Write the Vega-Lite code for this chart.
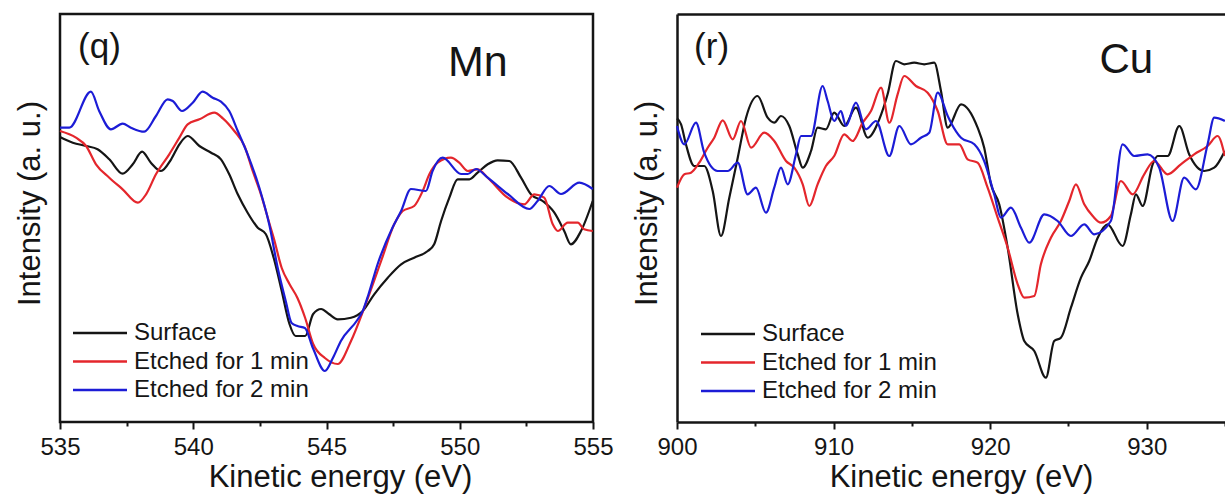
{
  "$schema": "https://vega.github.io/schema/vega-lite/v6.json",
  "background": "white",
  "padding": {"left": 12, "top": 12, "right": 0, "bottom": 0},
  "bounds": "flush",
  "spacing": 84,
  "config": {
    "font": "Liberation Sans",
    "axis": {"grid": false, "labelFont": "Liberation Sans", "titleFont": "Liberation Sans", "titleFontWeight": "normal", "labelColor": "#151515", "titleColor": "#151515", "domainColor": "#151515", "tickColor": "#151515"},
    "text": {"font": "Liberation Sans", "color": "#151515"}
  },
  "datasets": {
    "mn": [
      {"series": "Surface", "eV": 535.00, "v": 285}, {"series": "Surface", "eV": 535.48, "v": 279.3}, {"series": "Surface", "eV": 535.98, "v": 276}, {"series": "Surface", "eV": 536.41, "v": 272.7}, {"series": "Surface", "eV": 536.85, "v": 262.7}, {"series": "Surface", "eV": 537.35, "v": 248.3}, {"series": "Surface", "eV": 537.73, "v": 257.7}, {"series": "Surface", "eV": 538.08, "v": 270.3}, {"series": "Surface", "eV": 538.41, "v": 259.3}, {"series": "Surface", "eV": 538.79, "v": 251}, {"series": "Surface", "eV": 539.17, "v": 262.7}, {"series": "Surface", "eV": 539.48, "v": 277.7}, {"series": "Surface", "eV": 539.79, "v": 286}, {"series": "Surface", "eV": 540.23, "v": 276}, {"series": "Surface", "eV": 540.67, "v": 269.3}, {"series": "Surface", "eV": 541.04, "v": 262.7}, {"series": "Surface", "eV": 541.35, "v": 247.7}, {"series": "Surface", "eV": 541.67, "v": 227.7}, {"series": "Surface", "eV": 542.04, "v": 209.3}, {"series": "Surface", "eV": 542.42, "v": 194.3}, {"series": "Surface", "eV": 542.72, "v": 188}, {"series": "Surface", "eV": 543.02, "v": 164}, {"series": "Surface", "eV": 543.32, "v": 131}, {"series": "Surface", "eV": 543.61, "v": 98}, {"series": "Surface", "eV": 543.84, "v": 86}, {"series": "Surface", "eV": 544.20, "v": 86}, {"series": "Surface", "eV": 544.50, "v": 108}, {"series": "Surface", "eV": 544.80, "v": 113}, {"series": "Surface", "eV": 545.09, "v": 108}, {"series": "Surface", "eV": 545.42, "v": 102.7}, {"series": "Surface", "eV": 545.92, "v": 104.3}, {"series": "Surface", "eV": 546.36, "v": 111}, {"series": "Surface", "eV": 546.79, "v": 127.7}, {"series": "Surface", "eV": 547.30, "v": 144.3}, {"series": "Surface", "eV": 547.80, "v": 157.7}, {"series": "Surface", "eV": 548.29, "v": 164.3}, {"series": "Surface", "eV": 548.80, "v": 171}, {"series": "Surface", "eV": 549.04, "v": 177.7}, {"series": "Surface", "eV": 549.30, "v": 201}, {"series": "Surface", "eV": 549.61, "v": 224.3}, {"series": "Surface", "eV": 549.92, "v": 242.7}, {"series": "Surface", "eV": 550.36, "v": 242.7}, {"series": "Surface", "eV": 550.67, "v": 249.3}, {"series": "Surface", "eV": 551.05, "v": 257.7}, {"series": "Surface", "eV": 551.42, "v": 261.7}, {"series": "Surface", "eV": 551.86, "v": 261}, {"series": "Surface", "eV": 552.30, "v": 244.3}, {"series": "Surface", "eV": 552.67, "v": 227.7}, {"series": "Surface", "eV": 553.11, "v": 221}, {"series": "Surface", "eV": 553.55, "v": 209.3}, {"series": "Surface", "eV": 553.92, "v": 191}, {"series": "Surface", "eV": 554.17, "v": 177.7}, {"series": "Surface", "eV": 554.55, "v": 191}, {"series": "Surface", "eV": 554.99, "v": 221},
      {"series": "Etched for 1 min", "eV": 535.00, "v": 291}, {"series": "Etched for 1 min", "eV": 535.60, "v": 284.3}, {"series": "Etched for 1 min", "eV": 535.98, "v": 276}, {"series": "Etched for 1 min", "eV": 536.35, "v": 257.7}, {"series": "Etched for 1 min", "eV": 536.85, "v": 244.3}, {"series": "Etched for 1 min", "eV": 537.35, "v": 232.7}, {"series": "Etched for 1 min", "eV": 537.92, "v": 219.3}, {"series": "Etched for 1 min", "eV": 538.23, "v": 227.7}, {"series": "Etched for 1 min", "eV": 538.60, "v": 247.7}, {"series": "Etched for 1 min", "eV": 539.10, "v": 267.7}, {"series": "Etched for 1 min", "eV": 539.48, "v": 284.3}, {"series": "Etched for 1 min", "eV": 539.79, "v": 297.7}, {"series": "Etched for 1 min", "eV": 540.23, "v": 302.7}, {"series": "Etched for 1 min", "eV": 540.79, "v": 309.3}, {"series": "Etched for 1 min", "eV": 541.11, "v": 303.7}, {"series": "Etched for 1 min", "eV": 541.54, "v": 291}, {"series": "Etched for 1 min", "eV": 541.92, "v": 276}, {"series": "Etched for 1 min", "eV": 542.23, "v": 251}, {"series": "Etched for 1 min", "eV": 542.54, "v": 227.7}, {"series": "Etched for 1 min", "eV": 542.85, "v": 199.3}, {"series": "Etched for 1 min", "eV": 543.02, "v": 184}, {"series": "Etched for 1 min", "eV": 543.32, "v": 154}, {"series": "Etched for 1 min", "eV": 543.61, "v": 138}, {"series": "Etched for 1 min", "eV": 543.91, "v": 124}, {"series": "Etched for 1 min", "eV": 544.20, "v": 104}, {"series": "Etched for 1 min", "eV": 544.50, "v": 78}, {"series": "Etched for 1 min", "eV": 544.94, "v": 64}, {"series": "Etched for 1 min", "eV": 545.42, "v": 58}, {"series": "Etched for 1 min", "eV": 545.92, "v": 81}, {"series": "Etched for 1 min", "eV": 546.42, "v": 114.3}, {"series": "Etched for 1 min", "eV": 547.05, "v": 161}, {"series": "Etched for 1 min", "eV": 547.54, "v": 197.7}, {"series": "Etched for 1 min", "eV": 547.86, "v": 211}, {"series": "Etched for 1 min", "eV": 548.29, "v": 216}, {"series": "Etched for 1 min", "eV": 548.61, "v": 231}, {"series": "Etched for 1 min", "eV": 548.86, "v": 247.7}, {"series": "Etched for 1 min", "eV": 549.17, "v": 259.3}, {"series": "Etched for 1 min", "eV": 549.67, "v": 264.3}, {"series": "Etched for 1 min", "eV": 549.98, "v": 259.3}, {"series": "Etched for 1 min", "eV": 550.30, "v": 251}, {"series": "Etched for 1 min", "eV": 550.67, "v": 252.7}, {"series": "Etched for 1 min", "eV": 551.05, "v": 244.3}, {"series": "Etched for 1 min", "eV": 551.80, "v": 224.3}, {"series": "Etched for 1 min", "eV": 552.42, "v": 217.7}, {"series": "Etched for 1 min", "eV": 552.80, "v": 227.7}, {"series": "Etched for 1 min", "eV": 553.17, "v": 224.3}, {"series": "Etched for 1 min", "eV": 553.49, "v": 197.7}, {"series": "Etched for 1 min", "eV": 553.68, "v": 191}, {"series": "Etched for 1 min", "eV": 554.05, "v": 199.3}, {"series": "Etched for 1 min", "eV": 554.43, "v": 199.3}, {"series": "Etched for 1 min", "eV": 554.67, "v": 192.7}, {"series": "Etched for 1 min", "eV": 554.99, "v": 191},
      {"series": "Etched for 2 min", "eV": 535.00, "v": 294.3}, {"series": "Etched for 2 min", "eV": 535.35, "v": 294.3}, {"series": "Etched for 2 min", "eV": 536.16, "v": 330.3}, {"series": "Etched for 2 min", "eV": 536.47, "v": 311}, {"series": "Etched for 2 min", "eV": 536.91, "v": 292.7}, {"series": "Etched for 2 min", "eV": 537.35, "v": 298.3}, {"series": "Etched for 2 min", "eV": 537.66, "v": 294.3}, {"series": "Etched for 2 min", "eV": 538.16, "v": 290.3}, {"series": "Etched for 2 min", "eV": 538.60, "v": 306}, {"series": "Etched for 2 min", "eV": 539.04, "v": 322.7}, {"series": "Etched for 2 min", "eV": 539.23, "v": 321}, {"series": "Etched for 2 min", "eV": 539.58, "v": 311}, {"series": "Etched for 2 min", "eV": 539.98, "v": 319.3}, {"series": "Etched for 2 min", "eV": 540.35, "v": 330.3}, {"series": "Etched for 2 min", "eV": 540.73, "v": 324.3}, {"series": "Etched for 2 min", "eV": 541.04, "v": 320.3}, {"series": "Etched for 2 min", "eV": 541.35, "v": 311}, {"series": "Etched for 2 min", "eV": 541.67, "v": 291}, {"series": "Etched for 2 min", "eV": 542.04, "v": 267.7}, {"series": "Etched for 2 min", "eV": 542.48, "v": 234.3}, {"series": "Etched for 2 min", "eV": 542.85, "v": 197.7}, {"series": "Etched for 2 min", "eV": 543.17, "v": 154}, {"series": "Etched for 2 min", "eV": 543.47, "v": 121}, {"series": "Etched for 2 min", "eV": 543.69, "v": 99}, {"series": "Etched for 2 min", "eV": 543.91, "v": 96}, {"series": "Etched for 2 min", "eV": 544.19, "v": 94}, {"series": "Etched for 2 min", "eV": 544.49, "v": 74}, {"series": "Etched for 2 min", "eV": 544.94, "v": 51}, {"series": "Etched for 2 min", "eV": 545.24, "v": 64}, {"series": "Etched for 2 min", "eV": 545.54, "v": 81}, {"series": "Etched for 2 min", "eV": 546.13, "v": 101}, {"series": "Etched for 2 min", "eV": 546.36, "v": 111}, {"series": "Etched for 2 min", "eV": 546.58, "v": 128}, {"series": "Etched for 2 min", "eV": 546.92, "v": 158}, {"series": "Etched for 2 min", "eV": 547.47, "v": 194}, {"series": "Etched for 2 min", "eV": 547.80, "v": 211}, {"series": "Etched for 2 min", "eV": 548.17, "v": 233}, {"series": "Etched for 2 min", "eV": 548.73, "v": 231}, {"series": "Etched for 2 min", "eV": 548.98, "v": 251}, {"series": "Etched for 2 min", "eV": 549.36, "v": 264.3}, {"series": "Etched for 2 min", "eV": 550.05, "v": 248}, {"series": "Etched for 2 min", "eV": 550.30, "v": 248}, {"series": "Etched for 2 min", "eV": 550.61, "v": 253}, {"series": "Etched for 2 min", "eV": 551.05, "v": 244.3}, {"series": "Etched for 2 min", "eV": 551.80, "v": 228}, {"series": "Etched for 2 min", "eV": 552.61, "v": 213}, {"series": "Etched for 2 min", "eV": 552.92, "v": 221}, {"series": "Etched for 2 min", "eV": 553.36, "v": 236}, {"series": "Etched for 2 min", "eV": 553.80, "v": 228}, {"series": "Etched for 2 min", "eV": 554.49, "v": 239.3}, {"series": "Etched for 2 min", "eV": 554.99, "v": 233}
    ],
    "cu": [
      {"series": "Surface", "eV": 900.00, "v": 303.7}, {"series": "Surface", "eV": 900.26, "v": 297.7}, {"series": "Surface", "eV": 900.57, "v": 277.7}, {"series": "Surface", "eV": 901.10, "v": 256}, {"series": "Surface", "eV": 901.74, "v": 256}, {"series": "Surface", "eV": 902.28, "v": 231}, {"series": "Surface", "eV": 902.81, "v": 186}, {"series": "Surface", "eV": 903.34, "v": 224.3}, {"series": "Surface", "eV": 903.88, "v": 264.3}, {"series": "Surface", "eV": 904.41, "v": 304.3}, {"series": "Surface", "eV": 905.15, "v": 326}, {"series": "Surface", "eV": 905.79, "v": 304.3}, {"series": "Surface", "eV": 906.21, "v": 299.3}, {"series": "Surface", "eV": 906.64, "v": 306}, {"series": "Surface", "eV": 907.17, "v": 296}, {"series": "Surface", "eV": 907.71, "v": 267.7}, {"series": "Surface", "eV": 908.03, "v": 254.3}, {"series": "Surface", "eV": 908.56, "v": 271}, {"series": "Surface", "eV": 908.98, "v": 294.3}, {"series": "Surface", "eV": 909.51, "v": 292.7}, {"series": "Surface", "eV": 910.04, "v": 309.3}, {"series": "Surface", "eV": 910.68, "v": 296}, {"series": "Surface", "eV": 911.43, "v": 314.3}, {"series": "Surface", "eV": 912.18, "v": 284.3}, {"series": "Surface", "eV": 912.92, "v": 302.7}, {"series": "Surface", "eV": 913.45, "v": 327.7}, {"series": "Surface", "eV": 913.98, "v": 361}, {"series": "Surface", "eV": 914.51, "v": 357.7}, {"series": "Surface", "eV": 915.15, "v": 359.3}, {"series": "Surface", "eV": 915.79, "v": 357.7}, {"series": "Surface", "eV": 916.43, "v": 359.3}, {"series": "Surface", "eV": 916.86, "v": 331}, {"series": "Surface", "eV": 917.29, "v": 294.3}, {"series": "Surface", "eV": 918.14, "v": 317.7}, {"series": "Surface", "eV": 919.20, "v": 294.3}, {"series": "Surface", "eV": 919.62, "v": 274.3}, {"series": "Surface", "eV": 920.05, "v": 237.7}, {"series": "Surface", "eV": 920.58, "v": 217.7}, {"series": "Surface", "eV": 921.12, "v": 174.3}, {"series": "Surface", "eV": 921.76, "v": 107.7}, {"series": "Surface", "eV": 922.18, "v": 81}, {"series": "Surface", "eV": 922.82, "v": 71}, {"series": "Surface", "eV": 923.56, "v": 44.3}, {"series": "Surface", "eV": 924.09, "v": 81}, {"series": "Surface", "eV": 924.52, "v": 84.3}, {"series": "Surface", "eV": 925.16, "v": 114.3}, {"series": "Surface", "eV": 925.80, "v": 144.3}, {"series": "Surface", "eV": 926.33, "v": 161}, {"series": "Surface", "eV": 926.87, "v": 184.3}, {"series": "Surface", "eV": 927.50, "v": 197.7}, {"series": "Surface", "eV": 928.46, "v": 176}, {"series": "Surface", "eV": 928.99, "v": 207.7}, {"series": "Surface", "eV": 929.31, "v": 227.7}, {"series": "Surface", "eV": 929.74, "v": 216}, {"series": "Surface", "eV": 930.38, "v": 257.7}, {"series": "Surface", "eV": 930.70, "v": 266}, {"series": "Surface", "eV": 931.34, "v": 266}, {"series": "Surface", "eV": 932.08, "v": 296}, {"series": "Surface", "eV": 932.71, "v": 267.7}, {"series": "Surface", "eV": 933.67, "v": 251}, {"series": "Surface", "eV": 934.31, "v": 254.3}, {"series": "Surface", "eV": 934.99, "v": 271},
      {"series": "Etched for 1 min", "eV": 900.00, "v": 234.3}, {"series": "Etched for 1 min", "eV": 900.47, "v": 247.7}, {"series": "Etched for 1 min", "eV": 900.89, "v": 249.3}, {"series": "Etched for 1 min", "eV": 901.42, "v": 259.3}, {"series": "Etched for 1 min", "eV": 901.96, "v": 274.3}, {"series": "Etched for 1 min", "eV": 902.38, "v": 284.3}, {"series": "Etched for 1 min", "eV": 902.92, "v": 301.7}, {"series": "Etched for 1 min", "eV": 903.56, "v": 282.7}, {"series": "Etched for 1 min", "eV": 904.09, "v": 301}, {"series": "Etched for 1 min", "eV": 904.73, "v": 274.3}, {"series": "Etched for 1 min", "eV": 905.57, "v": 289.3}, {"series": "Etched for 1 min", "eV": 906.21, "v": 281}, {"series": "Etched for 1 min", "eV": 906.96, "v": 261}, {"series": "Etched for 1 min", "eV": 907.49, "v": 254.3}, {"series": "Etched for 1 min", "eV": 908.03, "v": 237.7}, {"series": "Etched for 1 min", "eV": 908.45, "v": 216}, {"series": "Etched for 1 min", "eV": 908.98, "v": 237.7}, {"series": "Etched for 1 min", "eV": 909.51, "v": 256}, {"series": "Etched for 1 min", "eV": 910.04, "v": 266}, {"series": "Etched for 1 min", "eV": 910.68, "v": 287.7}, {"series": "Etched for 1 min", "eV": 911.22, "v": 281}, {"series": "Etched for 1 min", "eV": 911.86, "v": 299.3}, {"series": "Etched for 1 min", "eV": 912.39, "v": 311}, {"series": "Etched for 1 min", "eV": 913.03, "v": 334.3}, {"series": "Etched for 1 min", "eV": 913.56, "v": 299.3}, {"series": "Etched for 1 min", "eV": 914.09, "v": 327.7}, {"series": "Etched for 1 min", "eV": 914.51, "v": 346}, {"series": "Etched for 1 min", "eV": 915.26, "v": 336}, {"series": "Etched for 1 min", "eV": 916.01, "v": 329.3}, {"series": "Etched for 1 min", "eV": 916.65, "v": 311}, {"series": "Etched for 1 min", "eV": 917.29, "v": 277.7}, {"series": "Etched for 1 min", "eV": 918.03, "v": 277.7}, {"series": "Etched for 1 min", "eV": 918.56, "v": 262.7}, {"series": "Etched for 1 min", "eV": 919.20, "v": 259.3}, {"series": "Etched for 1 min", "eV": 919.84, "v": 234.3}, {"series": "Etched for 1 min", "eV": 920.48, "v": 204.3}, {"series": "Etched for 1 min", "eV": 921.12, "v": 174.3}, {"series": "Etched for 1 min", "eV": 921.76, "v": 137.7}, {"series": "Etched for 1 min", "eV": 922.18, "v": 124.3}, {"series": "Etched for 1 min", "eV": 922.82, "v": 126}, {"series": "Etched for 1 min", "eV": 923.24, "v": 157.7}, {"series": "Etched for 1 min", "eV": 923.88, "v": 184.3}, {"series": "Etched for 1 min", "eV": 924.52, "v": 201}, {"series": "Etched for 1 min", "eV": 925.05, "v": 221}, {"series": "Etched for 1 min", "eV": 925.48, "v": 237.7}, {"series": "Etched for 1 min", "eV": 926.01, "v": 217.7}, {"series": "Etched for 1 min", "eV": 926.55, "v": 206}, {"series": "Etched for 1 min", "eV": 927.08, "v": 199.3}, {"series": "Etched for 1 min", "eV": 927.71, "v": 206}, {"series": "Etched for 1 min", "eV": 928.35, "v": 241}, {"series": "Etched for 1 min", "eV": 929.10, "v": 227.7}, {"series": "Etched for 1 min", "eV": 929.84, "v": 247.7}, {"series": "Etched for 1 min", "eV": 930.48, "v": 261}, {"series": "Etched for 1 min", "eV": 931.33, "v": 247.7}, {"series": "Etched for 1 min", "eV": 932.18, "v": 257.7}, {"series": "Etched for 1 min", "eV": 933.03, "v": 267.7}, {"series": "Etched for 1 min", "eV": 933.89, "v": 276}, {"series": "Etched for 1 min", "eV": 934.53, "v": 286}, {"series": "Etched for 1 min", "eV": 934.99, "v": 266},
      {"series": "Etched for 2 min", "eV": 900.00, "v": 296}, {"series": "Etched for 2 min", "eV": 900.47, "v": 277.7}, {"series": "Etched for 2 min", "eV": 901.21, "v": 299.3}, {"series": "Etched for 2 min", "eV": 901.74, "v": 269.3}, {"series": "Etched for 2 min", "eV": 902.60, "v": 251}, {"series": "Etched for 2 min", "eV": 903.24, "v": 251}, {"series": "Etched for 2 min", "eV": 903.88, "v": 259.3}, {"series": "Etched for 2 min", "eV": 904.51, "v": 227.7}, {"series": "Etched for 2 min", "eV": 905.04, "v": 234.3}, {"series": "Etched for 2 min", "eV": 905.68, "v": 209.3}, {"series": "Etched for 2 min", "eV": 906.21, "v": 234.3}, {"series": "Etched for 2 min", "eV": 906.64, "v": 254.3}, {"series": "Etched for 2 min", "eV": 907.07, "v": 237.7}, {"series": "Etched for 2 min", "eV": 907.60, "v": 267.7}, {"series": "Etched for 2 min", "eV": 907.92, "v": 286}, {"series": "Etched for 2 min", "eV": 908.56, "v": 286}, {"series": "Etched for 2 min", "eV": 909.30, "v": 336}, {"series": "Etched for 2 min", "eV": 909.62, "v": 321}, {"series": "Etched for 2 min", "eV": 910.04, "v": 301}, {"series": "Etched for 2 min", "eV": 910.47, "v": 311}, {"series": "Etched for 2 min", "eV": 910.79, "v": 296}, {"series": "Etched for 2 min", "eV": 911.43, "v": 319.3}, {"series": "Etched for 2 min", "eV": 912.07, "v": 292.7}, {"series": "Etched for 2 min", "eV": 912.71, "v": 301}, {"series": "Etched for 2 min", "eV": 913.56, "v": 266}, {"series": "Etched for 2 min", "eV": 914.20, "v": 296}, {"series": "Etched for 2 min", "eV": 914.94, "v": 277.7}, {"series": "Etched for 2 min", "eV": 915.58, "v": 284.3}, {"series": "Etched for 2 min", "eV": 916.11, "v": 289.3}, {"series": "Etched for 2 min", "eV": 916.65, "v": 329.3}, {"series": "Etched for 2 min", "eV": 917.29, "v": 306}, {"series": "Etched for 2 min", "eV": 917.50, "v": 299.3}, {"series": "Etched for 2 min", "eV": 918.14, "v": 284.3}, {"series": "Etched for 2 min", "eV": 918.99, "v": 277.7}, {"series": "Etched for 2 min", "eV": 919.62, "v": 261}, {"series": "Etched for 2 min", "eV": 920.26, "v": 227.7}, {"series": "Etched for 2 min", "eV": 920.69, "v": 204.3}, {"series": "Etched for 2 min", "eV": 921.33, "v": 214.3}, {"series": "Etched for 2 min", "eV": 921.97, "v": 194.3}, {"series": "Etched for 2 min", "eV": 922.50, "v": 179.3}, {"series": "Etched for 2 min", "eV": 923.46, "v": 207.7}, {"series": "Etched for 2 min", "eV": 924.31, "v": 201}, {"series": "Etched for 2 min", "eV": 925.16, "v": 186}, {"series": "Etched for 2 min", "eV": 926.01, "v": 197.7}, {"series": "Etched for 2 min", "eV": 926.65, "v": 187.7}, {"series": "Etched for 2 min", "eV": 927.71, "v": 201}, {"series": "Etched for 2 min", "eV": 928.46, "v": 277.7}, {"series": "Etched for 2 min", "eV": 929.20, "v": 266}, {"series": "Etched for 2 min", "eV": 930.06, "v": 267.7}, {"series": "Etched for 2 min", "eV": 930.80, "v": 254.3}, {"series": "Etched for 2 min", "eV": 931.65, "v": 201}, {"series": "Etched for 2 min", "eV": 932.39, "v": 244.3}, {"series": "Etched for 2 min", "eV": 933.14, "v": 232.7}, {"series": "Etched for 2 min", "eV": 933.89, "v": 277.7}, {"series": "Etched for 2 min", "eV": 934.31, "v": 304.3}, {"series": "Etched for 2 min", "eV": 934.99, "v": 301}
    ]
  },
  "resolve": {"legend": {"color": "independent"}},
  "hconcat": [
    {
      "width": 533,
      "height": 408,
      "view": {"stroke": "#151515", "strokeWidth": 2.5},
      "layer": [
        {
          "data": {"name": "mn"},
          "mark": {"type": "line", "strokeWidth": 2.2, "interpolate": "monotone"},
          "encoding": {
            "x": {"field": "eV", "type": "quantitative", "scale": {"domain": [535, 555], "nice": false, "zero": false},
              "axis": {"values": [535, 537.5, 540, 542.5, 545, 547.5, 550, 552.5, 555], "format": "d",
                "labelExpr": "datum.value % 5 === 0 ? datum.label : ''",
                "tickSize": {"condition": {"test": "datum.value % 5 === 0", "value": 7}, "value": 4},
                "tickWidth": 2, "labelFontSize": 24, "labelPadding": 6, "labelOverlap": false, "labelFlush": false,
                "domain": false, "title": "Kinetic energy (eV)", "titleFontSize": 31, "titlePadding": 3, "titleX": 280}},
            "y": {"field": "v", "type": "quantitative", "scale": {"domain": [0, 408], "nice": false, "zero": false},
              "axis": {"labels": false, "ticks": false, "domain": false, "title": "Intensity (a. u.)", "titleFontSize": 31, "titlePadding": 14, "titleY": 189}},
            "color": {"field": "series", "type": "nominal",
              "scale": {"domain": ["Surface", "Etched for 1 min", "Etched for 2 min"], "range": ["#151515", "#e4262c", "#1c1cd6"]},
              "legend": {"orient": "none", "legendX": 13, "legendY": 307, "title": null, "symbolType": "M-1.333,0H4.667", "symbolSize": 324, "symbolStrokeWidth": 2.5, "labelFontSize": 24, "labelOffset": 37, "rowPadding": 4.5, "padding": 0, "labelFont": "Liberation Sans", "labelColor": "#151515", "labelLimit": 400}}
          }
        },
        {
          "data": {"values": [{"eV": 535.68, "v": 364, "label": "(q)"}]},
          "mark": {"type": "text", "align": "left", "baseline": "alphabetic", "fontSize": 35},
          "encoding": {"x": {"field": "eV", "type": "quantitative"}, "y": {"field": "v", "type": "quantitative"}, "text": {"field": "label"}}
        },
        {
          "data": {"values": [{"eV": 550.68, "v": 346, "label": "Mn"}]},
          "mark": {"type": "text", "align": "center", "baseline": "alphabetic", "fontSize": 43},
          "encoding": {"x": {"field": "eV", "type": "quantitative"}, "y": {"field": "v", "type": "quantitative"}, "text": {"field": "label"}}
        }
      ]
    },
    {
      "width": 548,
      "height": 408,
      "view": {"stroke": null},
      "resolve": {"axis": {"x": "independent"}},
      "layer": [
        {
          "data": {"name": "cu"},
          "mark": {"type": "line", "strokeWidth": 2.2, "interpolate": "monotone"},
          "encoding": {
            "x": {"field": "eV", "type": "quantitative", "scale": {"domain": [900, 935], "nice": false, "zero": false},
              "axis": {"orient": "bottom", "values": [900, 905, 910, 915, 920, 925, 930, 935], "format": "d",
                "labelExpr": "datum.value % 10 === 0 ? datum.label : ''",
                "tickSize": {"condition": {"test": "datum.value % 10 === 0", "value": 7}, "value": 4},
                "tickWidth": 2, "labelFontSize": 24, "labelPadding": 6, "labelOverlap": false, "labelFlush": false,
                "domain": true, "domainWidth": 2.5, "title": "Kinetic energy (eV)", "titleFontSize": 31, "titlePadding": 3, "titleX": 284}},
            "y": {"field": "v", "type": "quantitative", "scale": {"domain": [0, 408], "nice": false, "zero": false},
              "axis": {"labels": false, "ticks": false, "domain": true, "domainWidth": 2.5, "title": "Intensity (a, u.)", "titleFontSize": 31, "titlePadding": 14, "titleY": 189}},
            "color": {"field": "series", "type": "nominal",
              "scale": {"domain": ["Surface", "Etched for 1 min", "Etched for 2 min"], "range": ["#151515", "#e4262c", "#1c1cd6"]},
              "legend": {"orient": "none", "legendX": 24, "legendY": 308, "title": null, "symbolType": "M-1.333,0H4.667", "symbolSize": 324, "symbolStrokeWidth": 2.5, "labelFontSize": 24, "labelOffset": 37, "rowPadding": 4.5, "padding": 0, "labelFont": "Liberation Sans", "labelColor": "#151515", "labelLimit": 400}}
          }
        },
        {
          "data": {"values": [{"eV": 901.09, "v": 364, "label": "(r)"}]},
          "mark": {"type": "text", "align": "left", "baseline": "alphabetic", "fontSize": 35},
          "encoding": {"x": {"field": "eV", "type": "quantitative", "axis": null}, "y": {"field": "v", "type": "quantitative"}, "text": {"field": "label"}}
        },
        {
          "data": {"values": [{"eV": 928.7, "v": 349, "label": "Cu"}]},
          "mark": {"type": "text", "align": "center", "baseline": "alphabetic", "fontSize": 42},
          "encoding": {"x": {"field": "eV", "type": "quantitative", "axis": {"orient": "top", "labels": false, "ticks": false, "title": null, "domain": true, "domainWidth": 2.5}}, "y": {"field": "v", "type": "quantitative"}, "text": {"field": "label"}}
        }
      ]
    }
  ]
}
